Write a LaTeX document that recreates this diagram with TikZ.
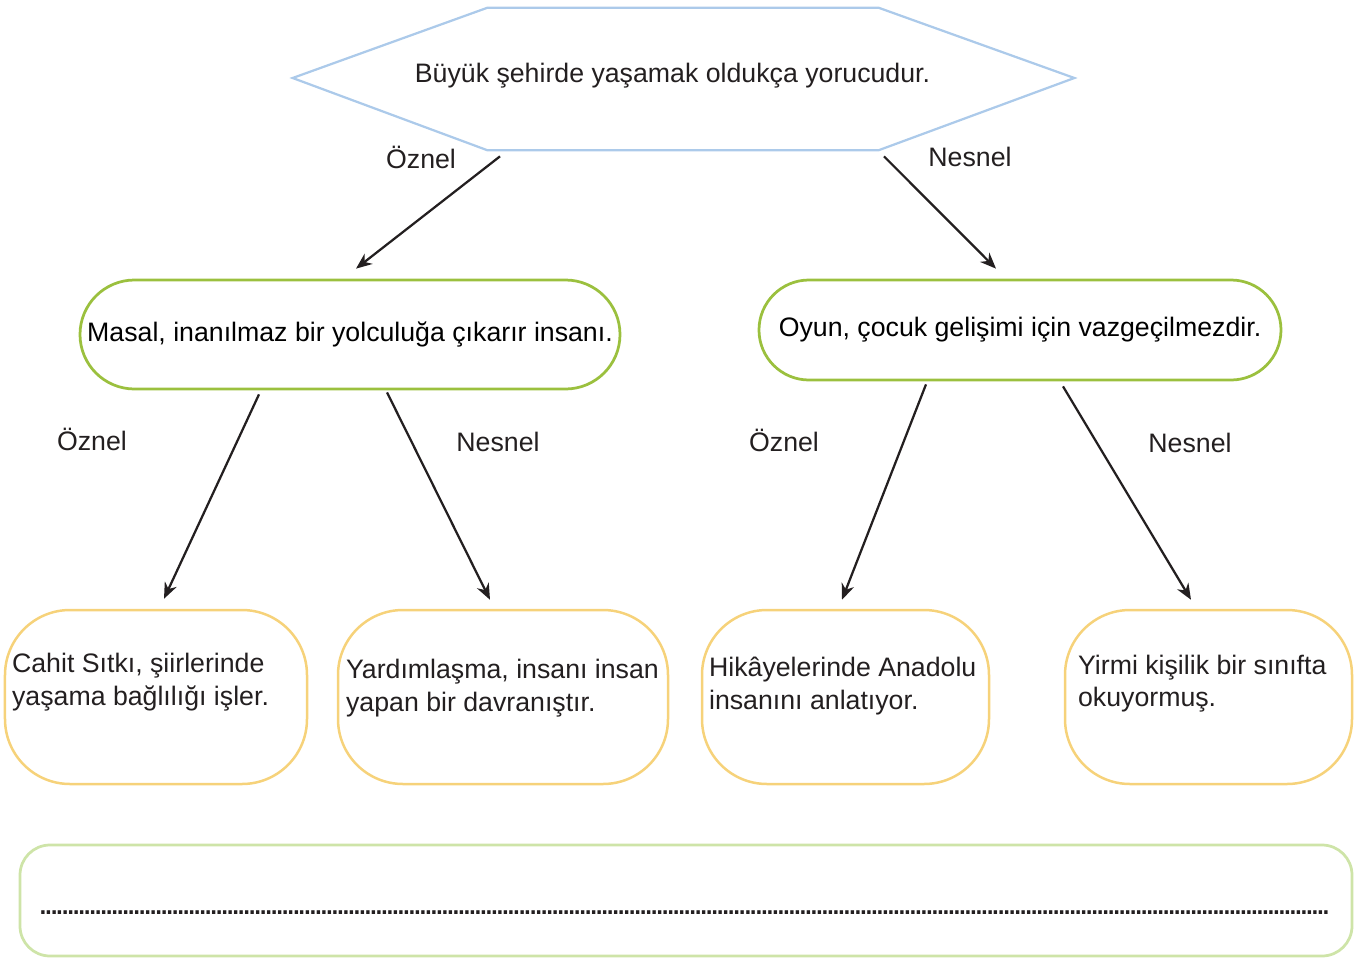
\documentclass[tikz,border=0pt]{standalone}
\usepackage{fontspec}
\setmainfont{Liberation Sans}
\usepackage{tikz}
\usetikzlibrary{arrows.meta,shapes.misc,positioning}

\definecolor{hexblue}{RGB}{172,202,234}
\definecolor{pillgreen}{RGB}{155,192,62}
\definecolor{cardyellow}{RGB}{246,210,122}
\definecolor{lightgreen}{RGB}{206,228,168}
\definecolor{ink}{RGB}{35,31,32}

\begin{document}
\begin{tikzpicture}[
    font=\fontsize{15.2}{18.4}\selectfont,
    arr/.style={-{Stealth[length=0.32cm,width=0.26cm]}, line width=0.045cm, draw=ink},
    pill/.style={draw=pillgreen, line width=0.055cm, rounded rectangle, inner sep=0pt},
    card/.style={draw=cardyellow, line width=0.05cm, rounded corners=1.3cm, inner sep=0pt,
                 minimum height=3.48cm},
    txt/.style={align=left, inner sep=0pt, anchor=west, text=ink},
    lbl/.style={inner sep=0pt, text=ink}]

    \useasboundingbox (0,0) rectangle (27.24,-19.22);

    % hexagon at the top
    \node[minimum width=7.8cm, minimum height=2.84cm, inner sep=0pt] (top) at (13.66,-1.58) {};
    \draw[draw=hexblue, line width=0.045cm] (top.north west) -- (top.north east)
        -- ([xshift=3.92cm,yshift=0.02cm]top.east) -- (top.south east) -- (top.south west)
        -- ([xshift=-3.9cm,yshift=0.02cm]top.west) -- cycle;
    \node[lbl] (toptext) at (13.45,-1.52) {Büyük şehirde yaşamak oldukça yorucudur.};

    % second row
    \node[pill, minimum width=10.8cm, minimum height=2.18cm] (masal) at (7.0,-6.69)
        {Masal, inanılmaz bir yolculuğa çıkarır insanı.};
    \node[pill, minimum width=10.44cm, minimum height=2.0cm] (oyun) at (20.4,-6.6)
        {Oyun, çocuk gelişimi için vazgeçilmezdir.};

    % bottom cards
    \node[card, minimum width=6.04cm] (cahit) at (3.12,-13.94) {};
    \node[card, minimum width=6.6cm] (yardim) at (10.06,-13.94) {};
    \node[card, minimum width=5.74cm] (hikaye) at (16.91,-13.94) {};
    \node[card, minimum width=5.74cm] (yirmi) at (24.17,-13.94) {};

    \node[txt] (cahittext) at ([xshift=0.16cm,yshift=0.3cm]cahit.west)
        {Cahit Sıtkı, şiirlerinde\\yaşama bağlılığı işler.};
    \node[txt] (yardimtext) at ([xshift=0.18cm,yshift=0.18cm]yardim.west)
        {Yardımlaşma, insanı insan\\yapan bir davranıştır.};
    \node[txt] (hikayetext) at ([xshift=0.16cm,yshift=0.22cm]hikaye.west)
        {Hikâyelerinde Anadolu\\insanını anlatıyor.};
    \node[txt] (yirmitext) at ([xshift=0.28cm,yshift=0.27cm]yirmi.west)
        {Yirmi kişilik bir sınıfta\\okuyormuş.};

    % labels
    \node[lbl] (oznelA) at (8.42,-3.14) {Öznel};
    \node[lbl] (nesnelA) at (19.4,-3.14) {Nesnel};
    \node[lbl] (oznelB) at (1.84,-8.78) {Öznel};
    \node[lbl] (nesnelB) at (9.96,-8.84) {Nesnel};
    \node[lbl] (oznelC) at (15.68,-8.8) {Öznel};
    \node[lbl] (nesnelC) at (23.8,-8.86) {Nesnel};

    % arrows
    \draw[arr] ([xshift=-3.66cm,yshift=-0.12cm]top.south) -- ([xshift=0.12cm,yshift=0.2cm]masal.north);
    \draw[arr] ([xshift=4.02cm,yshift=-0.12cm]top.south) -- ([xshift=-0.48cm,yshift=0.2cm]oyun.north);
    \draw[arr] ([xshift=-1.82cm,yshift=-0.08cm]masal.south) -- ([xshift=0.16cm,yshift=0.2cm]cahit.north);
    \draw[arr] ([xshift=0.74cm,yshift=-0.04cm]masal.south) -- ([xshift=-0.26cm,yshift=0.18cm]yardim.north);
    \draw[arr] ([xshift=-1.88cm,yshift=-0.06cm]oyun.south) -- ([xshift=-0.07cm,yshift=0.18cm]hikaye.north);
    \draw[arr] ([xshift=0.86cm,yshift=-0.1cm]oyun.south) -- ([xshift=-0.35cm,yshift=0.18cm]yirmi.north);

    % answer box
    \node[draw=lightgreen, line width=0.055cm, rounded corners=0.6cm, inner sep=0pt,
          minimum width=26.64cm, minimum height=2.22cm] (answer) at (13.72,-18.01) {};
    \node[inner sep=0pt, anchor=base west, text=ink, font=\fontsize{20}{20}\selectfont] (dots) at (0.8,-18.28)
        {\hbox to 25.76cm{\leaders\hbox to 0.11cm{\hss.\hss}\hfill}};
\end{tikzpicture}
\end{document}
